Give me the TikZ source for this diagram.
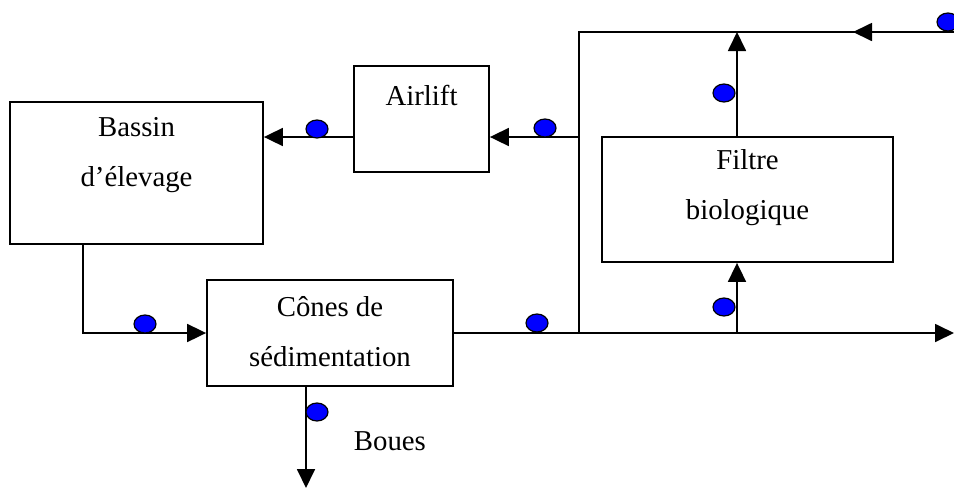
\documentclass[tikz,border=0pt]{standalone}
\usepackage{fontspec}
\setmainfont{Liberation Serif}
\usepackage{tikz}
\usetikzlibrary{arrows.meta,shapes.geometric}

\begin{document}
\begin{tikzpicture}[x=0.5pt,y=-0.5pt,line width=0.9pt,
    font=\fontsize{14.4pt}{25pt}\selectfont,
    box/.style={draw,rectangle,inner sep=0pt},
    lbl/.style={align=center,inner sep=0pt},
    flow/.style={-{Triangle[length=9.5pt,width=9pt]}},
    dot/.style={ellipse,draw=black,fill=blue,line width=0.6pt,inner sep=0pt,
      minimum width=11pt,minimum height=9pt}]
    \useasboundingbox (0,0) rectangle (954,489);
    \node[box,minimum width=126.5pt,minimum height=71pt] (bassin) at (136.5,173) {};
    \node[box,minimum width=67.5pt,minimum height=53pt] (airlift) at (421.5,119) {};
    \node[box,minimum width=145.5pt,minimum height=62.5pt] (filtre) at (747.5,199.5) {};
    \node[box,minimum width=123pt,minimum height=53pt] (cones) at (330,333) {};
    \node[lbl] (bassintxt) at (136.5,155) {Bassin\\d’élevage};
    \node[lbl] (airlifttxt) at (421.5,95) {Airlift};
    \node[lbl] (filtretxt) at (747.5,187.5) {Filtre\\biologique};
    \node[lbl] (conestxt) at (330,331.5) {Cônes de\\sédimentation};
    \node[lbl,anchor=west] (boues) at (353,441) {Boues};
    \coordinate (jn) at (579,333);
    \coordinate (split) at (579,137);
    \coordinate (tl) at (579,32);
    \coordinate (inlet) at (954,32);
    \coordinate (mid) at (853,32);
    \coordinate (out) at (954,333);
    \coordinate (fb) at (737,333);
    \coordinate (ft) at (737,32);
    \coordinate (sludge) at (306,488);
    \draw[flow] ([xshift=37pt]bassin.south west) |- (cones.west);
    \draw[flow] (cones.east) -- (out);
    \draw (jn) -- (tl) -- (inlet);
    \draw[flow] (inlet) -- (mid);
    \draw[flow] (split) -- (split -| airlift.east);
    \draw[flow] (airlift.west |- split) -- (bassin.east |- split);
    \draw[flow] (fb) -- (fb |- filtre.south);
    \draw[flow] (fb |- filtre.north) -- (ft);
    \draw[flow] (cones.south -| sludge) -- (sludge);
    \foreach \n/\p in {1/{145,324},2/{317,129},3/{545,128},4/{537,323},
      5/{724,307},6/{724,93},7/{317,412},8/{948,22}} {
      \node[dot] (dot\n) at (\p) {};
    }
\end{tikzpicture}
\end{document}
